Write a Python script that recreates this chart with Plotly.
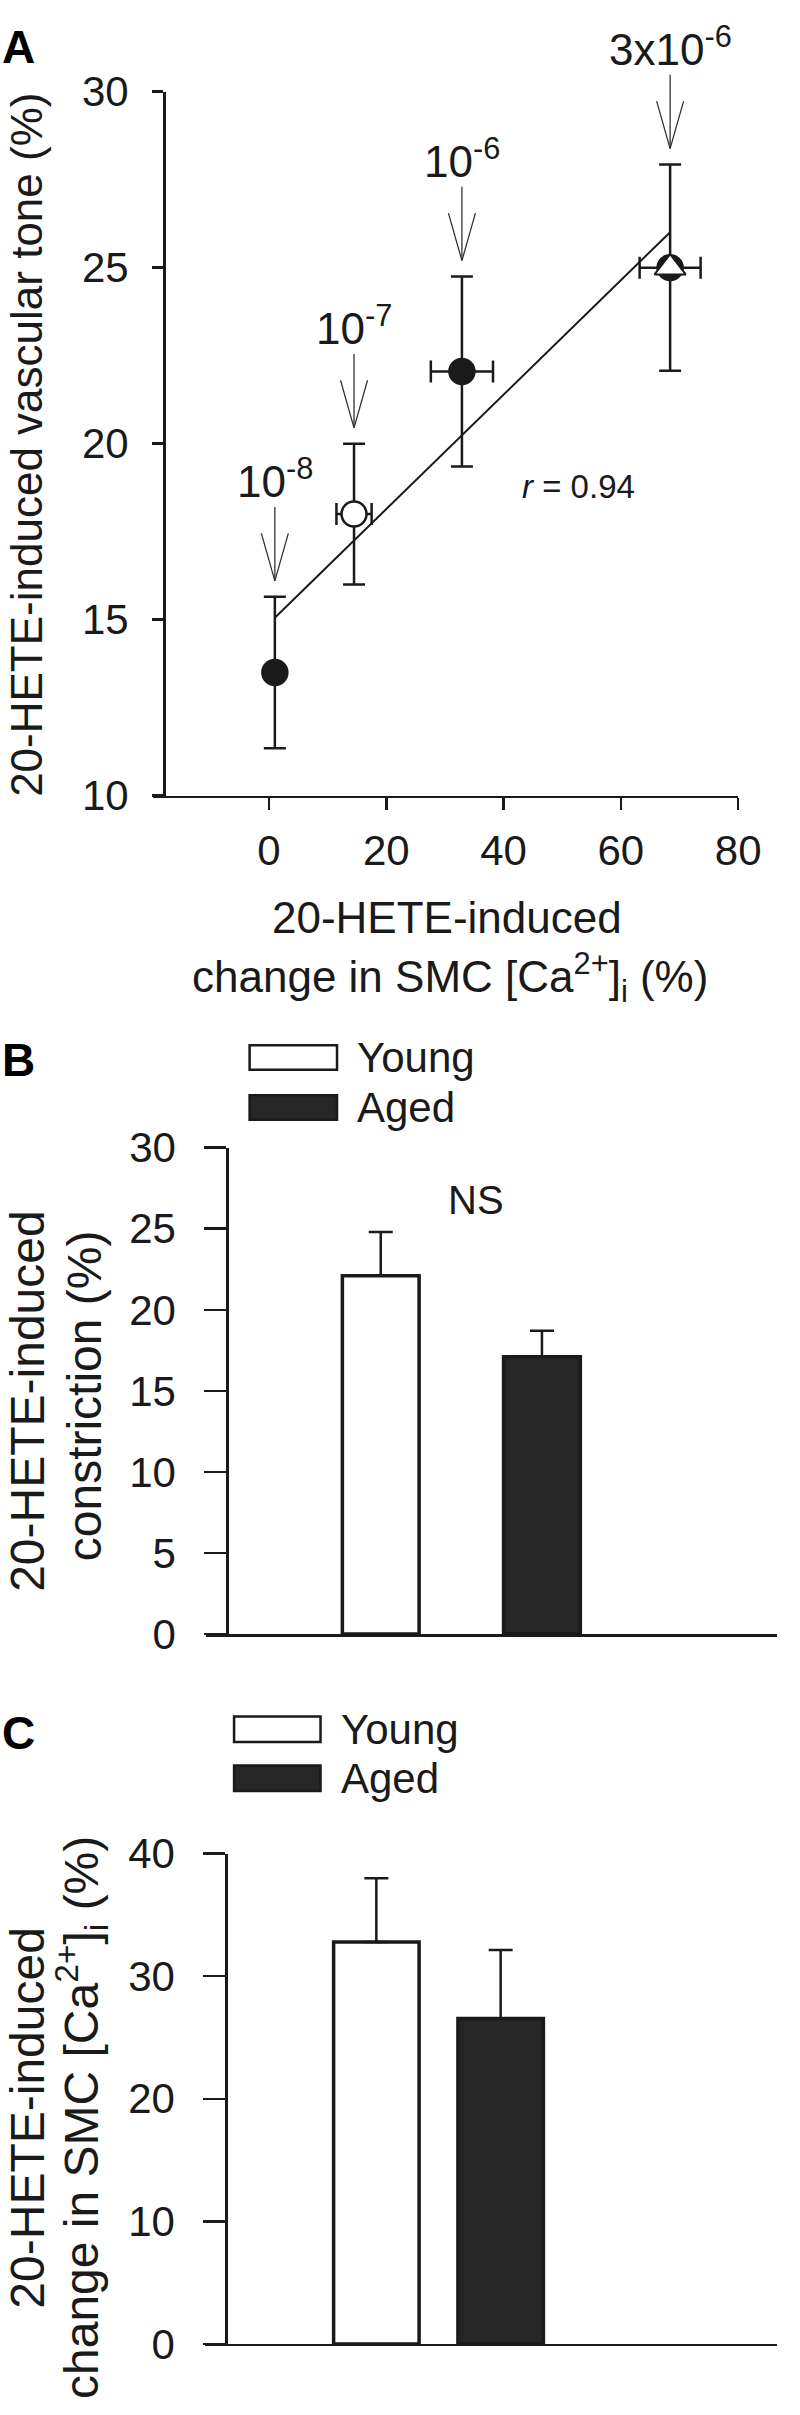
import numpy as np
import plotly.graph_objects as go

W, H = 800, 2415
FONT = "Liberation Sans, Arial, Helvetica, sans-serif"
INK = "#1a1a1a"
DARK = "#262626"

# ---------------- data ----------------
# Panel A: 20-HETE concentration-response
conc_labels = ["10<sup>-8</sup>", "10<sup>-7</sup>", "10<sup>-6</sup>", "3x10<sup>-6</sup>"]
ca_change = [1.0, 14.5, 32.9, 68.4]           # change in SMC [Ca2+]i (%)
ca_change_sem = [0.0, 3.0, 5.3, 5.2]
vascular_tone = [13.5, 18.0, 22.05, 25.0]     # induced vascular tone (%)
vascular_tone_sem = [2.15, 2.0, 2.7, 2.93]
r_text = "<i>r</i> = 0.94"
a_xticks = [0, 20, 40, 60, 80]
a_yticks = [10, 15, 20, 25, 30]

# Panel B: constriction
groups = ["Young", "Aged"]
group_pos = [1, 2]
constriction = [22.1, 17.1]
constriction_sem = [2.7, 1.6]
b_yticks = [0, 5, 10, 15, 20, 25, 30]

# Panel C: [Ca2+]i change
ca_group = [32.8, 26.55]
ca_group_sem = [5.2, 5.6]
c_yticks = [0, 10, 20, 30, 40]

# ---------------- styles ----------------
point_fill = [INK, "white", INK, INK]
bar_fill = ["white", DARK]


def px(x):
    return x / W


def py(y):
    return 1 - y / H


def txt(size, color=INK):
    return dict(family=FONT, size=size, color=color)


fig = go.Figure()
annotations = []

# ---- Panel A ----
slope, intercept = np.polyfit(ca_change, vascular_tone, 1)
xfit = np.array([min(ca_change), max(ca_change)])
fig.add_trace(go.Scatter(x=xfit, y=slope * xfit + intercept, mode="lines",
                         line=dict(color=INK, width=2), xaxis="x", yaxis="y",
                         hoverinfo="skip"))
fig.add_trace(go.Scatter(
    x=ca_change, y=vascular_tone, mode="markers", xaxis="x", yaxis="y",
    marker=dict(symbol="circle", size=25, color=point_fill,
                line=dict(color=INK, width=2.5)),
    error_y=dict(type="data", array=vascular_tone_sem, thickness=2.5, width=11, color=INK),
    error_x=dict(type="data", array=ca_change_sem, thickness=2.5, width=11, color=INK),
))
fig.add_trace(go.Scatter(
    x=[ca_change[3]], y=[vascular_tone[3]], mode="markers", xaxis="x", yaxis="y",
    marker=dict(symbol="triangle-up", size=27, color="white",
                line=dict(color=INK, width=2)),
))

# concentration arrows: label at the tail, shaft to the tip, open V head
GAP, SHAFT, ARM_DX, ARM_DY = 0.45, 2.1, 2.3, 1.35
head_x, head_y = [], []
for xi, yi, ei, lab in zip(ca_change, vascular_tone, vascular_tone_sem, conc_labels):
    tip = yi + ei + GAP
    tail = tip + SHAFT
    annotations.append(dict(x=xi, y=tip, ax=xi, ay=tail, xref="x", yref="y",
                            axref="x", ayref="y", text=lab, showarrow=True,
                            arrowhead=0, arrowwidth=1.3, arrowcolor="#333333",
                            standoff=0, startstandoff=0,
                            xanchor="center", yanchor="bottom", borderpad=0,
                            font=txt(44)))
    head_x += [xi - ARM_DX, xi, xi + ARM_DX, None]
    head_y += [tip + ARM_DY, tip, tip + ARM_DY, None]
fig.add_trace(go.Scatter(x=head_x, y=head_y, mode="lines", xaxis="x", yaxis="y",
                         line=dict(color="#333333", width=1.3), hoverinfo="skip"))

annotations.append(dict(x=52.8, y=18.77, xref="x", yref="y", text=r_text, showarrow=False,
                        xanchor="center", yanchor="middle", font=txt(33)))

# axis titles panel A
annotations.append(dict(x=px(460), y=py(912), xref="paper", yref="paper",
                        xanchor="center", yanchor="middle",
                        text="20-HETE-induced", showarrow=False, font=txt(44)))
annotations.append(dict(x=px(463), y=py(973), xref="paper", yref="paper",
                        xanchor="center", yanchor="middle",
                        text="change in SMC [Ca<sup>2+</sup>]<sub>i</sub> (%)", showarrow=False,
                        font=txt(44)))
annotations.append(dict(x=px(27), y=py(430), xref="paper", yref="paper", textangle=-90,
                        xanchor="center", yanchor="middle",
                        text="20-HETE-induced vascular tone (%)", showarrow=False,
                        font=txt(44)))

# ---- Panel B ----
fig.add_trace(go.Bar(
    x=group_pos, y=constriction, width=0.476, xaxis="x2", yaxis="y2",
    marker=dict(color=bar_fill, line=dict(color=INK, width=3.5)),
    error_y=dict(type="data", array=constriction_sem, arrayminus=[0, 0], symmetric=False,
                 thickness=2.5, width=12, color=INK),
))
annotations.append(dict(x=1.59, y=26.75, xref="x2", yref="y2", text="NS", showarrow=False,
                        xanchor="center", yanchor="middle", font=txt(40)))
annotations.append(dict(x=px(28), y=py(1405), xref="paper", yref="paper", textangle=-90,
                        xanchor="center", yanchor="middle",
                        text="20-HETE-induced", showarrow=False, font=txt(48)))
annotations.append(dict(x=px(87), y=py(1400), xref="paper", yref="paper", textangle=-90,
                        xanchor="center", yanchor="middle",
                        text="constriction (%)", showarrow=False, font=txt(48)))

# ---- Panel C ----
fig.add_trace(go.Bar(
    x=group_pos, y=ca_group, width=0.6875, xaxis="x3", yaxis="y3",
    marker=dict(color=bar_fill, line=dict(color=INK, width=3.5)),
    error_y=dict(type="data", array=ca_group_sem, arrayminus=[0, 0], symmetric=False,
                 thickness=2.5, width=12, color=INK),
))
annotations.append(dict(x=1.723, y=40.1, xref="x3", yref="y3", text="NS", showarrow=False,
                        xanchor="center", yanchor="middle", font=txt(40)))
annotations.append(dict(x=px(28), y=py(2136), xref="paper", yref="paper", textangle=-90,
                        xanchor="center", yanchor="middle",
                        text="20-HETE-induced", showarrow=False, font=txt(48)))
annotations.append(dict(x=px(84), y=py(2136), xref="paper", yref="paper", textangle=-90,
                        xanchor="center", yanchor="middle",
                        text="change in SMC [Ca<sup>2+</sup>]<sub>i</sub> (%)", showarrow=False,
                        font=txt(48)))

# panel letters
for letter, yc in [("A", 24), ("B", 1058), ("C", 1744)]:
    annotations.append(dict(x=0, y=py(yc), xref="paper", yref="paper", xanchor="left",
                            yanchor="middle", text="<b>%s</b>" % letter, showarrow=False,
                            font=txt(46, "black")))

# legends for B and C (drawn)
shapes = []
for (bx0, bx1, tx, yy, hh) in [(257, 347, 366, [1055, 1106], 25), (241, 330, 349, [1740, 1790], 26)]:
    for gname, fill, yc in zip(groups, bar_fill, yy):
        shapes.append(dict(type="rect", xref="paper", yref="paper",
                           x0=px(bx0), x1=px(bx1), y0=py(yc + hh / 2), y1=py(yc - hh / 2),
                           fillcolor=fill, line=dict(color=INK, width=2.5)))
        annotations.append(dict(x=px(tx), y=py(yc), xref="paper", yref="paper",
                                xanchor="left", yanchor="middle", text=gname, showarrow=False,
                                font=txt(42)))

axis_common = dict(showgrid=False, zeroline=False, showline=True, linecolor=INK, linewidth=2.5,
                   ticks="outside", tickcolor=INK, tickwidth=2.5, tickfont=txt(42))

fig.update_layout(
    width=W, height=H, autosize=False,
    margin=dict(l=0, r=0, t=0, b=0),
    paper_bgcolor="white", plot_bgcolor="white",
    showlegend=False,
    font=dict(family=FONT, color=INK),
    xaxis=dict(domain=[px(158), px(760)], range=[-19.7, 80], anchor="y",
               tickvals=a_xticks, ticklen=12, ticklabelstandoff=4, **axis_common),
    yaxis=dict(domain=[py(788), py(70)], range=[10, 30], anchor="free", position=px(169),
               tickvals=a_yticks, ticklen=11, ticklabelstandoff=15, **axis_common),
    xaxis2=dict(domain=[px(212), 1], range=[-0.0845, 3.458], anchor="y2",
                showticklabels=False, **{**axis_common, "ticks": ""}),
    yaxis2=dict(domain=[py(1643), py(1147)], range=[0, 30], anchor="free", position=px(234),
                tickvals=b_yticks, ticklen=22, ticklabelstandoff=20, **axis_common),
    xaxis3=dict(domain=[px(211), 1], range=[-0.379, 4.223], anchor="y3",
                showticklabels=False, **{**axis_common, "ticks": ""}),
    yaxis3=dict(domain=[py(2367), py(1867)], range=[0, 40], anchor="free", position=px(233),
                tickvals=c_yticks, ticklen=22, ticklabelstandoff=20, **axis_common),
    annotations=annotations,
    shapes=shapes,
)

fig.write_html("out.html",
               config={"displayModeBar": False, "staticPlot": True},
               post_script="document.body.style.margin='0';document.body.style.overflow='hidden';")
